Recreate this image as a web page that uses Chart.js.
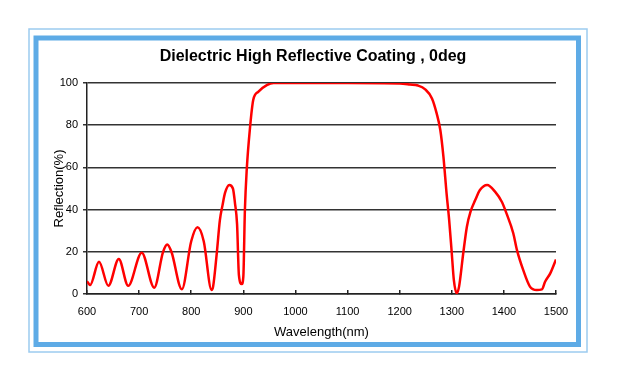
<!DOCTYPE html>
<html>
<head>
<meta charset="utf-8">
<script src="https://cdn.jsdelivr.net/npm/chart.js@4/dist/chart.umd.min.js"></script>
<style>
  html, body { margin: 0; padding: 0; background: #fff; }
  #wrap { width: 618px; height: 384px; }
</style>
</head>
<body>
<div id="wrap"><canvas id="chart"></canvas></div>
<script>
// Datos
const wavelengths = [
  600, 606, 623, 641, 661, 679, 705, 729, 746, 754, 762, 782, 800, 812, 824,
  839, 842, 849, 855, 860, 865, 873, 880, 884, 888, 891.5, 897,
  900, 903, 906.5, 913, 919, 929, 945, 958, 1000, 1100, 1200, 1220, 1235,
  1249, 1262, 1271, 1278, 1284, 1290, 1295, 1300, 1304, 1309.5, 1314, 1322,
  1329, 1336, 1345, 1354, 1368, 1383, 1396, 1405, 1418, 1425, 1437, 1450,
  1463, 1473, 1479, 1489, 1500
];
const reflection = [
  6, 4.3, 15.3, 3.9, 16.6, 3.9, 19.6, 3, 20, 23.5, 20, 2.2, 25, 31.6, 25,
  1.9, 3.5, 19.3, 35, 42, 48, 51.7, 50, 43, 33, 9, 4.7,
  8.2, 39.8, 58.8, 79.3, 91.9, 95.9, 99, 100, 100, 100, 99.8, 99.3, 98.8,
  97, 92.7, 85.6, 77.7, 65, 47.7, 35, 19.3, 6.6, 0.3, 3.5, 19.3,
  31.9, 39, 44.5, 49.3, 51.7, 48.5, 43.7, 38.2, 28.8, 20.9, 11.4, 3.5,
  1.9, 2.2, 5.8, 9.8, 16.4
];
const xTicks = [600, 700, 800, 900, 1000, 1100, 1200, 1300, 1400, 1500];
const yTicks = [0, 20, 40, 60, 80, 100];

const FONT = '"Liberation Sans", Arial, sans-serif';

// Marco azul alrededor del grafico
const framePlugin = {
  id: "frame",
  beforeDraw(chart) {
    const ctx = chart.ctx;
    ctx.save();
    ctx.fillStyle = "#fff";
    ctx.fillRect(0, 0, chart.width, chart.height);
    ctx.strokeStyle = "#9ccbef";
    ctx.lineWidth = 1.5;
    ctx.strokeRect(29, 29, 558, 323);
    ctx.strokeStyle = "#5eabe6";
    ctx.lineWidth = 5;
    ctx.strokeRect(36, 38, 542.5, 306.5);
    ctx.restore();
  },
};

const points = wavelengths.map((w, i) => ({ x: w, y: reflection[i] }));

new Chart(document.getElementById("chart"), {
  type: "line",
  data: {
    datasets: [
      {
        data: points,
        yAxisID: "y",
        borderColor: "#ff0000",
        borderWidth: 2.5,
        pointRadius: 0,
        cubicInterpolationMode: "monotone",
      },
    ],
  },
  options: {
    responsive: true,
    maintainAspectRatio: false,
    animation: false,
    layout: { padding: { left: 47, right: 39, top: 0, bottom: 40 } },
    plugins: {
      legend: { display: false },
      tooltip: { enabled: false },
      title: {
        display: true,
        text: "Dielectric High Reflective Coating , 0deg",
        color: "#000",
        font: { family: FONT, size: 16, weight: "bold" },
        padding: { top: 47, bottom: 16.8 },
      },
    },
    scales: {
      x: {
        type: "linear",
        min: 600,
        max: 1500,
        afterBuildTicks: (scale) => {
          scale.ticks = xTicks.map((v) => ({ value: v }));
        },
        afterFit: (scale) => {
          scale.height = 50;
        },
        grid: {
          drawOnChartArea: false,
          drawTicks: true,
          tickLength: -4,
          color: "#222",
          lineWidth: 1.5,
        },
        border: { color: "#222", width: 1.5 },
        ticks: {
          color: "#000",
          font: { family: FONT, size: 11 },
          padding: 15,
          maxRotation: 0,
          callback: (v) => String(v),
        },
        title: {
          display: true,
          text: "Wavelength(nm)",
          color: "#000",
          font: { family: FONT, size: 13 },
          padding: { top: 4, bottom: 4 },
        },
      },
      y: {
        position: "left",
        min: 0,
        max: 100,
        afterBuildTicks: (scale) => {
          scale.ticks = yTicks.map((v) => ({ value: v }));
        },
        afterFit: (scale) => {
          scale.width = 40;
        },
        grid: {
          color: "#333",
          lineWidth: 1.5,
          tickLength: 4,
        },
        border: { color: "#222", width: 1.5 },
        ticks: {
          color: "#000",
          font: { family: FONT, size: 11 },
          padding: 5,
          callback: (v) => String(v),
        },
        title: {
          display: true,
          text: "Reflection(%)",
          color: "#000",
          font: { family: FONT, size: 13 },
          padding: { top: 4.2, bottom: 0 },
        },
      },
      // eje vacio a la derecha, solo para centrar el titulo
      yRight: {
        position: "right",
        min: 0,
        max: 100,
        afterFit: (scale) => {
          scale.width = 23;
        },
        grid: { display: false },
        border: { display: false },
        ticks: { display: false },
      },
    },
  },
  plugins: [framePlugin],
});
</script>
</body>
</html>
